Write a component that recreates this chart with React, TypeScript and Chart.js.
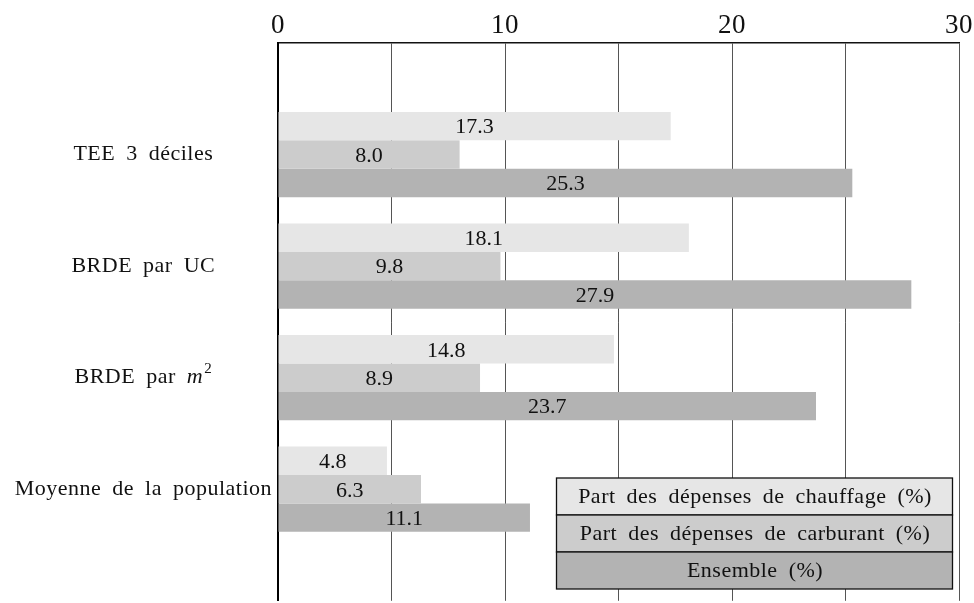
import React, { useEffect, useRef } from 'react';
import { Chart, registerables } from 'chart.js';

Chart.register(...registerables);

// ---- Data ----
const categories = ['TEE 3 déciles', 'BRDE par UC', 'BRDE par m²', 'Moyenne de la population'];
const seriesLabels = [
  'Part des dépenses de chauffage (%)',
  'Part des dépenses de carburant (%)',
  'Ensemble (%)',
];
const chauffage = [17.3, 18.1, 14.8, 4.8];
const carburant = [8.0, 9.8, 8.9, 6.3];
const ensemble = [25.3, 27.9, 23.7, 11.1];
const xTickLabels = [0, 10, 20, 30];

const seriesColors = ['#e6e6e6', '#cccccc', '#b3b3b3'];
const FONT = '"Liberation Serif", "Times New Roman", serif';
const TEXT_SIZE = 22;
const M2_INDEX = 3; // position of 'BRDE par m²' in the padded label list

function setSpacing(ctx: any) {
  try {
    ctx.letterSpacing = '0.5px';
    ctx.wordSpacing = '5px';
  } catch (e) {
    /* ignore */
  }
}

const spacingPlugin = {
  id: 'spacing',
  afterInit(chart: any) { setSpacing(chart.ctx); },
  beforeUpdate(chart: any) { setSpacing(chart.ctx); },
  beforeDraw(chart: any) { setSpacing(chart.ctx); },
};

// Draws "BRDE par m²" with an italic m and a raised 2, at the tick position computed by the axis
const mathLabelPlugin = {
  id: 'mathLabel',
  afterDraw(chart: any) {
    const scale = chart.scales.y;
    const items = scale.getLabelItems();
    const item = items.find((it: any) => it.label === categories[2]);
    if (!item) return;
    const [cx, cy] = item.options.translation;
    const ctx = chart.ctx;
    ctx.save();
    setSpacing(ctx);
    ctx.fillStyle = '#111';
    ctx.textAlign = 'left';
    ctx.textBaseline = 'middle';
    const base = categories[2].replace('m²', '');
    const fReg = `${TEXT_SIZE}px ${FONT}`;
    const fIt = `italic ${TEXT_SIZE}px ${FONT}`;
    const fSup = `15px ${FONT}`;
    ctx.font = fReg; const w1 = ctx.measureText(base).width;
    ctx.font = fIt; const w2 = ctx.measureText('m').width;
    ctx.font = fSup; const w3 = ctx.measureText('2').width;
    let x = cx - (w1 + w2 + 1 + w3) / 2;
    ctx.font = fReg; ctx.fillText(base, x, cy); x += w1;
    ctx.font = fIt; ctx.fillText('m', x, cy); x += w2 + 1;
    ctx.font = fSup; ctx.fillText('2', x, cy - 9);
    ctx.restore();
  },
};

const valueLabelPlugin = {
  id: 'valueLabels',
  afterDatasetsDraw(chart: any) {
    const ctx = chart.ctx;
    ctx.save();
    try { ctx.letterSpacing = '0px'; ctx.wordSpacing = '0px'; } catch (e) { /* */ }
    ctx.font = `${TEXT_SIZE}px ${FONT}`;
    ctx.fillStyle = '#111';
    ctx.textAlign = 'center';
    ctx.textBaseline = 'middle';
    chart.data.datasets.forEach((ds: any, di: number) => {
      const meta = chart.getDatasetMeta(di);
      meta.data.forEach((el: any, i: number) => {
        const v = ds.data[i];
        if (v === null || v === undefined) return;
        const p = el.getProps(['x', 'base', 'y'], true);
        ctx.fillText(Number(v).toFixed(1), (p.x + p.base) / 2, p.y + 1.5);
      });
    });
    ctx.restore();
  },
};

const boxLegendPlugin = {
  id: 'boxLegend',
  afterDraw(chart: any) {
    const { ctx, chartArea } = chart;
    const right = chartArea.right - 6.5;
    const w = 396;
    const left = right - w;
    const top = chartArea.top + 435;
    const rowH = 37;
    ctx.save();
    setSpacing(ctx);
    ctx.font = `${TEXT_SIZE}px ${FONT}`;
    ctx.textAlign = 'center';
    ctx.textBaseline = 'middle';
    chart.data.datasets.forEach((ds: any, i: number) => {
      const y = top + i * rowH;
      ctx.fillStyle = ds.backgroundColor;
      ctx.fillRect(left, y, w, rowH);
      ctx.strokeStyle = '#111';
      ctx.lineWidth = 1.3;
      ctx.strokeRect(left, y, w, rowH);
      ctx.fillStyle = '#111';
      ctx.fillText(ds.label, left + w / 2 + 0.5, y + rowH / 2 + 1);
    });
    ctx.restore();
  },
};

export default function App() {
  const canvasRef = useRef<HTMLCanvasElement | null>(null);

  useEffect(() => {
    if (!canvasRef.current) return;
    const labels = ['', ...categories, ''];
    const pad = (arr: number[]) => [null, ...arr, null];
    const chart = new Chart(canvasRef.current, {
      type: 'bar',
      data: {
        labels,
        datasets: [
          { label: seriesLabels[0], data: pad(chauffage), backgroundColor: seriesColors[0] },
          { label: seriesLabels[1], data: pad(carburant), backgroundColor: seriesColors[1] },
          { label: seriesLabels[2], data: pad(ensemble), backgroundColor: seriesColors[2] },
        ] as any,
      },
      options: {
        indexAxis: 'y',
        animation: false,
        responsive: false,
        devicePixelRatio: 1,
        layout: { padding: { top: 8.6, right: 15, bottom: 10.5, left: 0 } },
        datasets: {
          bar: { categoryPercentage: 0.764, barPercentage: 1.0, borderWidth: 0 },
        },
        plugins: {
          legend: { display: false },
          tooltip: { enabled: false },
        },
        scales: {
          x: {
            type: 'linear',
            position: 'top',
            min: 0,
            max: 30,
            ticks: {
              stepSize: 5,
              autoSkip: false,
              maxRotation: 0,
              padding: 1,
              color: '#111',
              font: { family: FONT, size: 27 },
              callback: (v: any) => (xTickLabels.includes(Number(v)) ? String(v) : ''),
            },
            grid: { color: '#555', lineWidth: 1, drawTicks: false },
            border: { display: true, color: '#111', width: 1.5 },
          },
          y: {
            type: 'category',
            offset: false,
            grid: { display: false, drawTicks: false },
            border: { display: true, color: '#000', width: 2 },
            ticks: {
              crossAlign: 'center',
              padding: 6,
              autoSkip: false,
              color: (c: any) => (c.index === M2_INDEX ? 'rgba(0,0,0,0)' : '#111'),
              font: { family: FONT, size: TEXT_SIZE },
            },
            afterFit: (scale: any) => { scale.width = 278; },
          },
        },
      } as any,
      plugins: [spacingPlugin, valueLabelPlugin, boxLegendPlugin, mathLabelPlugin],
    });
    return () => chart.destroy();
  }, []);

  return (
    <div
      style={{
        position: 'fixed',
        left: 0,
        top: 0,
        width: 974,
        height: 603,
        overflow: 'hidden',
        background: '#fff',
      }}
    >
      <canvas ref={canvasRef} width={974} height={620} style={{ display: 'block' }} />
    </div>
  );
}
